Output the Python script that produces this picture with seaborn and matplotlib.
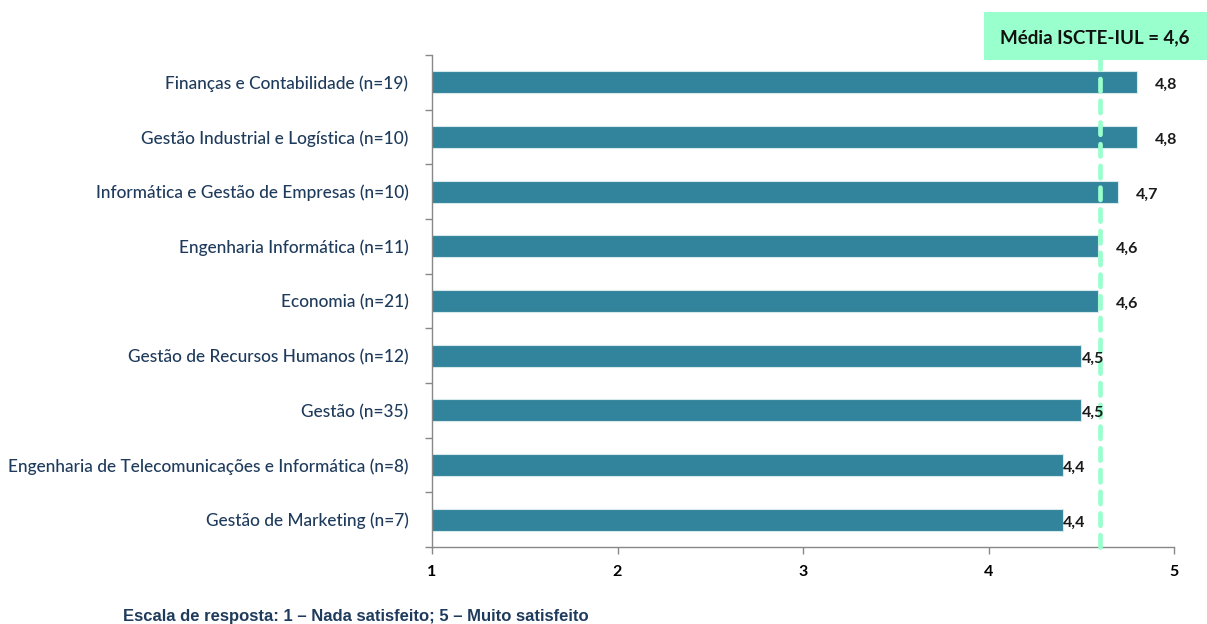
import seaborn as sns
import pandas as pd
import matplotlib.pyplot as plt
from matplotlib.patches import Rectangle

cursos = [
    'Finanças e Contabilidade (n=19)',
    'Gestão Industrial e Logística (n=10)',
    'Informática e Gestão de Empresas (n=10)',
    'Engenharia Informática (n=11)',
    'Economia (n=21)',
    'Gestão de Recursos Humanos (n=12)',
    'Gestão (n=35)',
    'Engenharia de Telecomunicações e Informática (n=8)',
    'Gestão de Marketing (n=7)',
]
medias = [4.8, 4.8, 4.7, 4.59, 4.59, 4.5, 4.5, 4.4, 4.4]
rotulos = ['4,8', '4,8', '4,7', '4,6', '4,6', '4,5', '4,5', '4,4', '4,4']
media_iscte = 4.6
xticks = [1, 2, 3, 4, 5]

navy = '#1F3B5C'
teal = '#31849B'
mint = '#99FFCC'

sns.set_style('white')
plt.rcParams['font.family'] = ['Lato', 'DejaVu Sans']

df = pd.DataFrame({'curso': cursos, 'media': medias})

fig = plt.figure(figsize=(12.07, 6.24), dpi=100)
ax = fig.add_axes([432 / 1207, 1 - 547 / 624, (1174 - 432) / 1207, (547 - 55) / 624])

sns.barplot(data=df, x='media', y='curso', color=teal, width=0.4,
            edgecolor='#D5E8EC', linewidth=0.8, saturation=1, ax=ax)

ax.set_xlim(1, 5)
ax.set_ylim(len(cursos) - 0.5, -0.5)
ax.set_xlabel('')
ax.set_ylabel('')

# category separators as ticks (Excel style)
ax.set_yticks(range(len(cursos)))
ax.set_yticklabels(cursos, color=navy, fontsize=12.4, fontweight='medium')
ax.set_yticks([i - 0.5 for i in range(len(cursos) + 1)], minor=True)
ax.tick_params(axis='y', which='major', length=0, pad=17)
ax.tick_params(axis='y', which='minor', length=5, color='#888888', width=1, direction='out', left=True)

ax.set_xticks(xticks)
ax.set_xticklabels([str(t) for t in xticks], fontsize=11.5, fontweight='bold', color='black')
ax.tick_params(axis='x', length=5, color='#888888', width=1, direction='out', bottom=True, pad=8)

for s in ['top', 'right']:
    ax.spines[s].set_visible(False)
for s in ['left', 'bottom']:
    ax.spines[s].set_color('#888888')
    ax.spines[s].set_linewidth(1)

# mean line
ax.plot([media_iscte, media_iscte], [len(cursos) - 0.5, -0.42], color=mint,
        linewidth=3.4, linestyle=(0, (2.6, 2.0)),
        dash_capstyle='round', clip_on=False, zorder=5)

# value labels: pushed past the mean line when they would collide with it
for i, (v, r) in enumerate(zip(medias, rotulos)):
    pad = 0.095 if v >= media_iscte - 0.02 else 0.003
    ax.text(v + pad, i + 0.05, r, va='center', ha='left', fontsize=11.5,
            fontweight='bold', color='#1A1A1A', clip_on=False, zorder=6)

# mean label box
fig.patches.append(Rectangle((984 / 1207, 1 - 60 / 624), 230 / 1207, 48 / 624,
                             transform=fig.transFigure, facecolor=mint, edgecolor='none'))
fig.text(1095 / 1207, 1 - 38 / 624, 'Média ISCTE-IUL = 4,6', ha='center', va='center',
         fontsize=13.5, fontweight='bold', color='#111111')

fig.text(123 / 1207, 1 - 617 / 624, 'Escala de resposta: 1 – Nada satisfeito; 5 – Muito satisfeito',
         ha='left', va='center', fontsize=12, fontweight='bold', color=navy,
         family=['Liberation Sans', 'DejaVu Sans'])

fig.savefig('out.png', dpi=100)
